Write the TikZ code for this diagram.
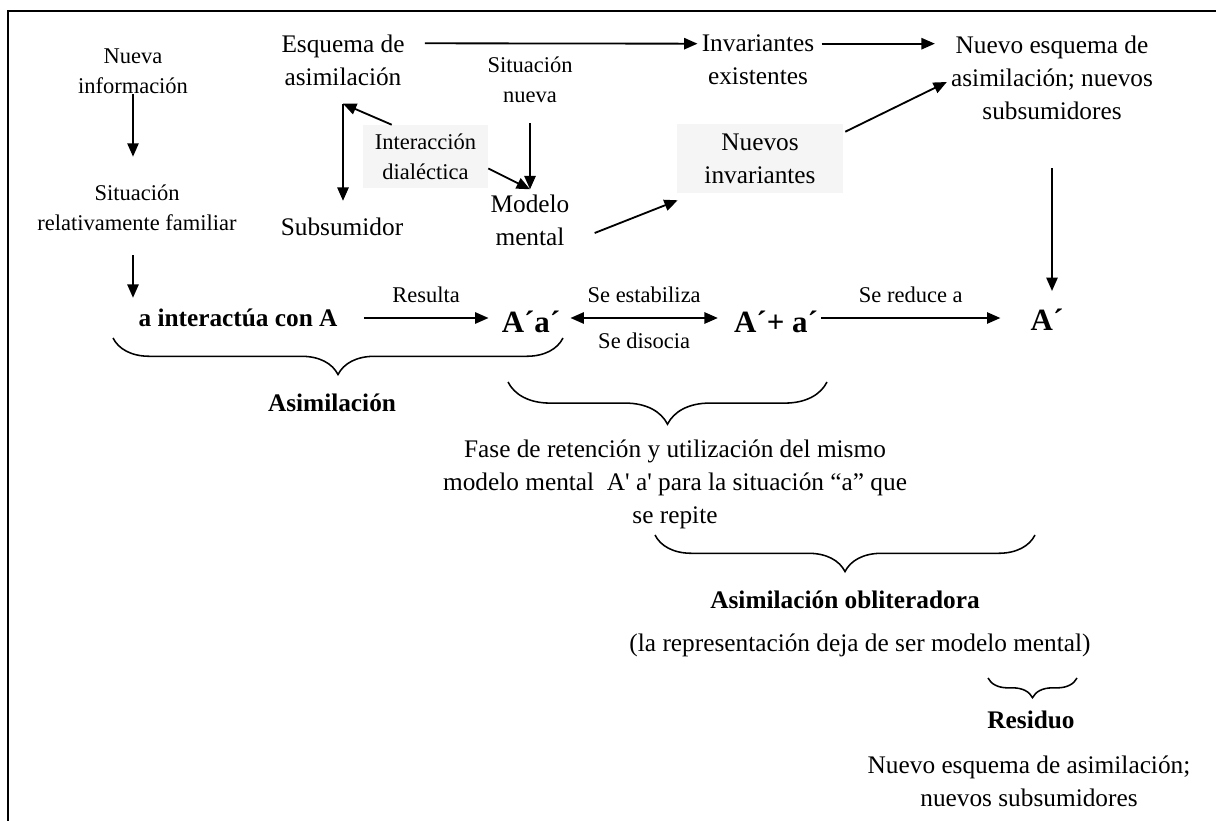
\documentclass[tikz,border=0pt]{standalone}
\usepackage{fontspec}
\setmainfont{Liberation Serif}
\usepackage{tikz}
\usetikzlibrary{arrows.meta,calc,decorations.pathreplacing}
\tikzset{
    txt/.style={align=center,inner sep=0pt,font=\fontsize{18}{23.5}\selectfont},
    txtsm/.style={align=center,inner sep=0pt,font=\fontsize{16}{21.5}\selectfont},
    txtb/.style={txt,font=\fontsize{18}{23.5}\selectfont\bfseries},
    txtbig/.style={txt,font=\fontsize{22}{26}\selectfont\bfseries},
    greybox/.style={fill=gray!8},
    arr/.style={line width=1.3pt,-{Triangle[length=9.5pt,width=8pt]}},
    darr/.style={line width=1.3pt,{Triangle[length=9.5pt,width=8pt]}-{Triangle[length=9.5pt,width=8pt]}},
    brc/.style={line width=1.1pt,decorate,decoration={brace,mirror,amplitude=#1}}
}
\begin{document}
\begin{tikzpicture}[x=0.025cm,y=-0.025cm]
    \useasboundingbox (0,0) rectangle (1216,821);
    \clip (0,0) rectangle (1216,821);
    \draw[line width=1.5pt] (8,11) rectangle (1240,845);

    \node[txtsm] (nueva) at (133,71) {Nueva\\información};
    \node[txtsm] (sitfam) at (137,208) {Situación\\relativamente familiar};
    \node[txt] (esquema) at (343,60) {Esquema de\\asimilación};
    \node[txtsm] (sitnueva) at (530,80) {Situación\\nueva};
    \node[txt] (invexist) at (758,60) {Invariantes\\existentes};
    \node[txt] (nuevoesq) at (1052,78) {Nuevo esquema de\\asimilación; nuevos\\subsumidores};
    \node[txtsm,greybox,minimum width=3.125cm,minimum height=1.575cm] (interac) at (425.5,156.5) {Interacción\\dialéctica};
    \node[txt] (subsum) at (342,227) {Subsumidor};
    \node[txt] (modelo) at (530,220) {Modelo\\mental};
    \node[txt,greybox,minimum width=4.15cm,minimum height=1.725cm] (nuevinv) at (760,158.5) {Nuevos\\invariantes};

    \node[txtb] (interact) at (238,318) {a interactúa con A};
    \node[txtbig] (Aa) at (531,322) {A´a´};
    \node[txtbig] (Apa) at (776,322) {A´+ a´};
    \node[txtbig] (Ap) at (1047,320) {A´};

    \coordinate (esqfoot) at ($(esquema.south)+(0,18)$);
    \coordinate (modtop) at ($(modelo.north)+(0,-5)$);

    \draw[arr] ($(nueva.south)+(0,0)$) -- ($(sitfam.north -| nueva)+(0,-28)$);
    \draw[arr] ($(sitfam.south -| nueva)+(0,24)$) -- ($(interact.north -| nueva)+(0,-11)$);
    \draw[arr] ($(esquema.north east)+(20,9)$) -- ($(invexist.north west)+(-4,9)$);
    \draw[arr] ($(invexist.north east)+(7,9)$) -- ($(invexist.north east -| nuevoesq.west)+(-16,9)$);
    \draw[arr] (esqfoot) -- ($(subsum.north -| esqfoot)+(0,-17)$);
    \draw[arr] ($(interac.north west)+(29,0)$) -- (esqfoot);
    \draw[arr] ($(sitnueva.south)+(0,20)$) -- (modtop);
    \draw[arr] ($(interac.east)+(0,12)$) -- (modtop);
    \draw[arr] ($(modelo.east)+(25,13)$) -- ($(nuevinv.south west)+(1,7)$);
    \draw[arr] ($(nuevinv.north east)+(2,8)$) -- ($(nuevoesq.west)+(-4,4)$);
    \draw[arr] ($(nuevoesq.south)+(0,48)$) -- ($(Ap.north -| nuevoesq)+(0,-18)$);

    \draw[arr] ($(interact.east)+(26,0)$) -- node[txtsm,midway,above=10pt] (resulta) {Resulta} ($(interact.east -| Aa.west)+(-13,0)$);
    \draw[darr] ($(interact.east -| Aa.east)+(10,0)$) -- node[txtsm,midway,above=10pt] (estab) {Se estabiliza}
        node[txtsm,midway,below=10pt] (disoc) {Se disocia} ($(interact.east -| Apa.west)+(-16,0)$);
    \draw[arr] ($(interact.east -| Apa.east)+(3,0)$) -- node[txtsm,midway,above=10pt] (reduce) {Se reduce a} ($(interact.east -| Ap.west)+(-30,0)$);

    \draw[brc=26pt] (113,338) -- (563,338);
    \node[txtb] (asim) at (332,403) {Asimilación};
    \draw[brc=30pt] (508,382) -- (827,382);
    \node[txt] (fase) at (675,484) {Fase de retención y utilización del mismo\\modelo mental\ \ A\textquotesingle\ a\textquotesingle\ para la situación “a” que\\se repite};
    \draw[brc=26pt] (655,535) -- (1035,535);
    \node[txtb] (oblit) at (845,600) {Asimilación obliteradora};
    \node[txt] (repres) at (860,645) {(la representación deja de ser modelo mental)};
    \draw[brc=14pt] (988,678) -- (1077,678);
    \node[txtb] (residuo) at (1031,720) {Residuo};
    \node[txt] (final) at (1029,781) {Nuevo esquema de asimilación;\\nuevos subsumidores};
\end{tikzpicture}
\end{document}
